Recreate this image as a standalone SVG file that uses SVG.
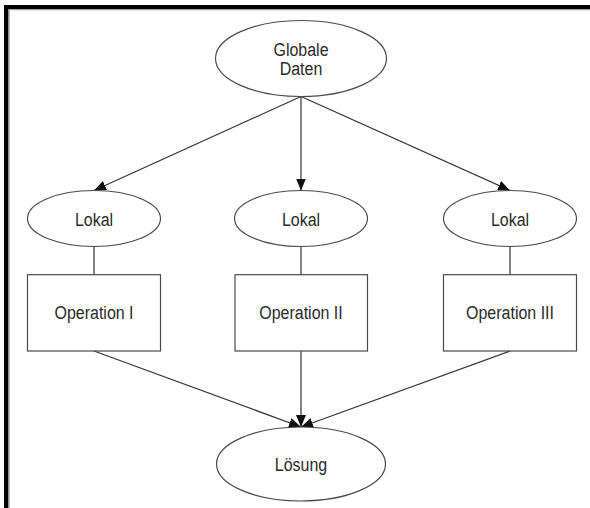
<svg xmlns="http://www.w3.org/2000/svg" width="590" height="508" viewBox="0 0 590 508">
  <defs>
    <marker id="arrow" viewBox="0 0 12 10" refX="12" refY="5" markerWidth="12" markerHeight="10" markerUnits="userSpaceOnUse" orient="auto">
      <path d="M0,0 L12,5 L0,10 Z" fill="#111"/>
    </marker>
    <style>
      .shape { fill: #ffffff; stroke: #4a4a4a; stroke-width: 1.2; }
      .label { font-family: "Liberation Sans", Arial, sans-serif; font-size: 16px; fill: #2a2a2a; text-anchor: middle; }
      .edge { fill: none; stroke: #333333; stroke-width: 1.2; }
      .arrow { marker-end: url(#arrow); }
    </style>
  </defs>

  <rect width="590" height="508" fill="#ffffff"/>

  <!-- frame: heavy top and left rule with a light inner line -->
  <g id="frame">
    <rect x="4" y="5" width="586" height="4" fill="#000000"/>
    <rect x="4" y="5" width="4.5" height="503" fill="#000000"/>
    <rect x="8.5" y="9" width="581.5" height="1.2" fill="#a0a0a0"/>
    <rect x="8.5" y="9" width="1.2" height="499" fill="#a0a0a0"/>
  </g>

  <g id="connectors">
    <line class="edge arrow" x1="301" y1="96.5" x2="94" y2="190.5"/>
    <line class="edge arrow" x1="301" y1="96.5" x2="301" y2="190.5"/>
    <line class="edge arrow" x1="301" y1="96.5" x2="510" y2="190.5"/>
    <line class="edge" x1="94" y1="246.5" x2="94" y2="274.7"/>
    <line class="edge" x1="301" y1="246.5" x2="301" y2="274.7"/>
    <line class="edge" x1="510" y1="246.5" x2="510" y2="274.7"/>
    <line class="edge arrow" x1="94" y1="351" x2="301" y2="427"/>
    <line class="edge arrow" x1="301" y1="351" x2="301" y2="427"/>
    <line class="edge arrow" x1="510" y1="351" x2="301" y2="427"/>
  </g>

  <!-- labels are stretched slightly taller than wide -->
  <g id="globale-daten">
    <ellipse class="shape" cx="301" cy="58.5" rx="85.5" ry="38"/>
    <text class="label" transform="translate(301 56) scale(1 1.1)">Globale</text>
    <text class="label" transform="translate(301 75) scale(1 1.1)">Daten</text>
  </g>

  <g id="lokal-1">
    <ellipse class="shape" cx="94" cy="218.5" rx="66.5" ry="28"/>
    <text class="label" transform="translate(94 226) scale(1 1.1)">Lokal</text>
  </g>
  <g id="lokal-2">
    <ellipse class="shape" cx="301" cy="218.5" rx="66.5" ry="28"/>
    <text class="label" transform="translate(301 226) scale(1 1.1)">Lokal</text>
  </g>
  <g id="lokal-3">
    <ellipse class="shape" cx="510" cy="218.5" rx="66.5" ry="28"/>
    <text class="label" transform="translate(510 226) scale(1 1.1)">Lokal</text>
  </g>

  <g id="operation-1">
    <rect class="shape" x="27.5" y="274.7" width="133" height="76.3"/>
    <text class="label" transform="translate(94 319) scale(1 1.1)">Operation I</text>
  </g>
  <g id="operation-2">
    <rect class="shape" x="235" y="274.7" width="132.5" height="76.3"/>
    <text class="label" transform="translate(301 319) scale(1 1.1)">Operation II</text>
  </g>
  <g id="operation-3">
    <rect class="shape" x="443.5" y="274.7" width="133" height="76.3"/>
    <text class="label" transform="translate(510 319) scale(1 1.1)">Operation III</text>
  </g>

  <g id="loesung">
    <ellipse class="shape" cx="301" cy="464" rx="84.5" ry="37"/>
    <text class="label" transform="translate(301 471) scale(1 1.1)">Lösung</text>
  </g>
</svg>
